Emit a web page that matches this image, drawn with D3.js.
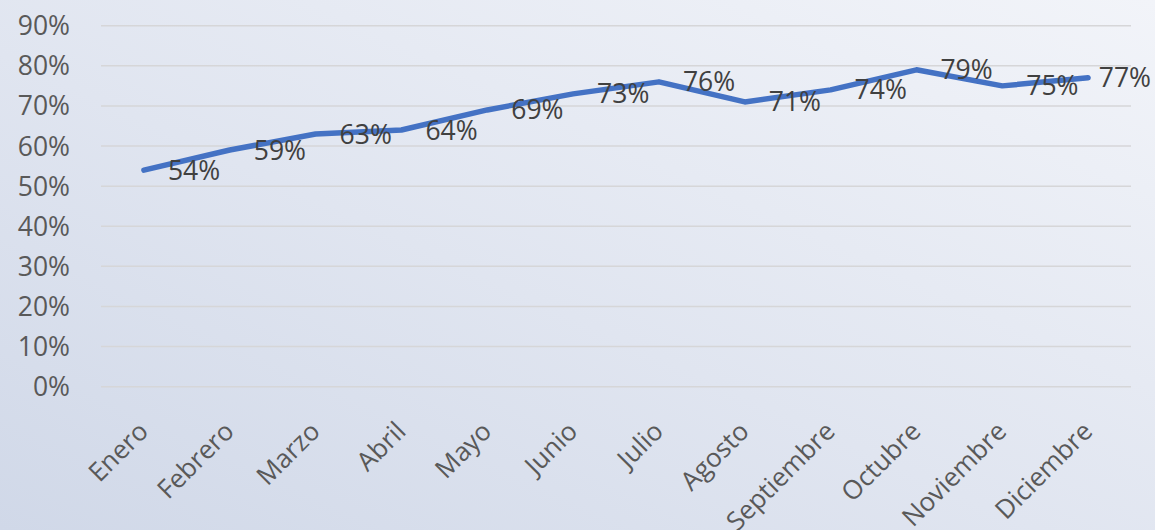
<!DOCTYPE html>
<html>
<head>
<meta charset="utf-8">
<script src="https://cdn.jsdelivr.net/npm/d3@7"></script>
<style>
  body { margin: 0; overflow: hidden; }
  svg { display: block; }
</style>
</head>
<body>
<div class="canvas"></div>
<script>
const months = ["Enero", "Febrero", "Marzo", "Abril", "Mayo", "Junio", "Julio",
    "Agosto", "Septiembre", "Octubre", "Noviembre", "Diciembre"];
const values = [0.54, 0.59, 0.63, 0.64, 0.69, 0.73, 0.76, 0.71, 0.74, 0.79, 0.75, 0.77];
const yTicks = [0, 0.1, 0.2, 0.3, 0.4, 0.5, 0.6, 0.7, 0.8, 0.9];

const width = 1155, height = 530;
const font = "'Open Sans', 'DejaVu Sans', sans-serif";

const svg = d3.select(".canvas")
    .append("svg")
    .attr("width", width)
    .attr("height", height);

// background
const grad = svg.append("defs").append("linearGradient")
    .attr("id", "bg")
    .attr("x1", "0%").attr("y1", "100%")
    .attr("x2", "100%").attr("y2", "0%");
grad.append("stop").attr("offset", "0%").attr("stop-color", "#d0d8e8");
grad.append("stop").attr("offset", "45%").attr("stop-color", "#e0e5f0");
grad.append("stop").attr("offset", "100%").attr("stop-color", "#f2f4f9");
svg.append("rect")
    .attr("width", width)
    .attr("height", height)
    .attr("fill", "url(#bg)");

const x = d3.scalePoint()
    .domain(months)
    .range([101, 1131])
    .padding(0.5);

const y = d3.scaleLinear()
    .domain([0, 0.9])
    .range([386.7, 25.7]);

// gridlines
svg.append("g")
    .selectAll("line")
    .data(yTicks)
    .enter()
    .append("line")
    .attr("x1", 101)
    .attr("x2", 1131)
    .attr("y1", d => y(d))
    .attr("y2", d => y(d))
    .attr("stroke", "#d6d6d8")
    .attr("stroke-width", 1.5);

// y labels
svg.append("g")
    .selectAll("text")
    .data(yTicks)
    .enter()
    .append("text")
    .attr("x", 70)
    .attr("y", d => y(d))
    .attr("dy", "0.36em")
    .attr("text-anchor", "end")
    .attr("font-family", font)
    .attr("font-size", "26.5px")
    .attr("fill", "#595959")
    .text(d => d3.format(".0%")(d));

// x labels
svg.append("g")
    .selectAll("text")
    .data(months)
    .enter()
    .append("text")
    .attr("transform", d => "translate(" + (x(d) - 7) + "," + 420 + ") rotate(-45)")
    .attr("text-anchor", "end")
    .attr("dy", "0.7em")
    .attr("font-family", font)
    .attr("font-size", "26px")
    .attr("fill", "#595959")
    .text(d => d);

// line
const line = d3.line()
    .x((d, i) => x(months[i]))
    .y(d => y(d));

svg.append("path")
    .datum(values)
    .attr("d", line)
    .attr("fill", "none")
    .attr("stroke", "#4472c4")
    .attr("stroke-width", 5.5)
    .attr("stroke-linecap", "round")
    .attr("stroke-linejoin", "round");

// data labels, right of point (pulled in when they would run off the edge)
svg.append("g")
    .selectAll("text")
    .data(values)
    .enter()
    .append("text")
    .attr("x", (d, i) => x(months[i]) + 24)
    .attr("y", d => y(d))
    .attr("dy", "0.36em")
    .attr("font-family", font)
    .attr("font-size", "26.5px")
    .attr("fill", "#404040")
    .text(d => d3.format(".0%")(d))
    .each(function() {
        const el = d3.select(this);
        const w = this.getComputedTextLength();
        const x0 = +el.attr("x");
        if (x0 + w > width - 4) el.attr("x", width - 4 - w);
    });
</script>
</body>
</html>
